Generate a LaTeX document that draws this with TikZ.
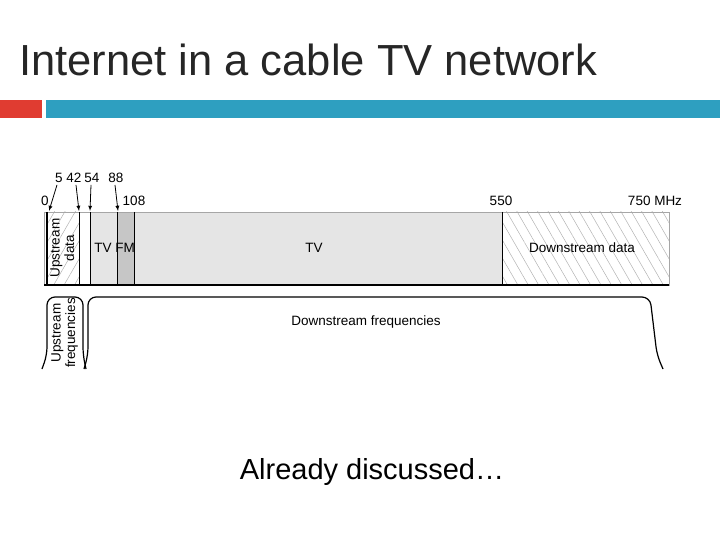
\documentclass[tikz,border=0pt]{standalone}
\usepackage{fontspec}
\setmainfont{Liberation Sans}
\usetikzlibrary{patterns.meta}
\definecolor{tred}{HTML}{E03C31}
\definecolor{tteal}{HTML}{2E9FC0}
\begin{document}
\begin{tikzpicture}[x=1pt,y=-1pt,
  lbl/.style={font=\fontsize{13.5}{14.5}\selectfont,inner sep=0pt},
  arr/.style={-latex,line width=0.8pt},
  brk/.style={line width=1.2pt,rounded corners=8pt}]
\useasboundingbox (0,0) rectangle (720,540);
\node[anchor=west,font=\fontsize{43.5}{46}\selectfont,inner sep=0pt,text=black!85] (title) at (19,60) {Internet in a cable TV network};
\fill[tred] (0,100) rectangle (42,118);
\fill[tteal] (46,100) rectangle (720,118);
% bands
\fill[gray!20] (90,212) rectangle (502,285);
\fill[gray!45] (117,212) rectangle (134,285);
\fill[white] (79,212) rectangle (90,285);
\fill[pattern={Lines[angle=60,distance=9pt,line width=0.5pt]},pattern color=gray!60] (47,212) rectangle (79,285);
\fill[pattern={Lines[angle=-60,distance=9pt,line width=0.5pt]},pattern color=gray!60] (502,212) rectangle (669,285);
\draw[gray!70] (44,212) rectangle (669,285);
\draw[line width=1.2pt] (44,285) -- (669,285);
\draw[line width=1.2pt] (47,212) -- (47,285);
\draw (79,212) -- (79,285) (90,212) -- (90,285) (117,212) -- (117,285) (134,212) -- (134,285) (502,212) -- (502,285);
\node[lbl,rotate=90] (ud) at (64,248) {\begin{tabular}{@{}c@{}}Upstream\\data\end{tabular}};
\node[lbl] (tv1) at (103,248) {TV};
\node[lbl] (fm) at (125,248) {FM};
\node[lbl] (tv2) at (314,248) {TV};
\node[lbl] (dd) at (582,248) {Downstream data};
% freq labels
\node[lbl] (f5) at (59,178) {5};
\node[lbl] (f42) at (74,178) {42};
\node[lbl] (f54) at (92,178) {54};
\node[lbl] (f88) at (116,178) {88};
\node[lbl] (f0) at (45,201) {0};
\node[lbl] (f108) at (134,201) {108};
\node[lbl] (f550) at (501,201) {550};
\node[lbl] (f750) at (655,201) {750 MHz};
\coordinate (t5) at (49,211); \coordinate (t42) at (79,211);
\coordinate (t54) at (90,211); \coordinate (t88) at (118,211);
\draw[arr] (f5.south) ++(-2,2) -- (t5);
\draw[arr] (f42.south) ++(2,2) -- (t42);
\draw[arr] (f54.south) ++(-1,2) -- (t54);
\draw[arr] (f88.south) ++(-1,2) -- (t88);
% brackets
\draw[brk] (42,369) -- (47,355) -- (47,297) -- (83,297) -- (83,355) -- (86,369);
\draw[brk] (84,369) -- (88,355) -- (88,297) -- (650,297) -- (657,355) -- (663,369);
\node[lbl,rotate=90] (uf) at (65,333) {\begin{tabular}{@{}c@{}}Upstream\\frequencies\end{tabular}};
\node[lbl] (df) at (366,322) {Downstream frequencies};
\node[font=\fontsize{29}{32}\selectfont,inner sep=0pt] (ad) at (372,472) {Already discussed…};
\end{tikzpicture}
\end{document}
